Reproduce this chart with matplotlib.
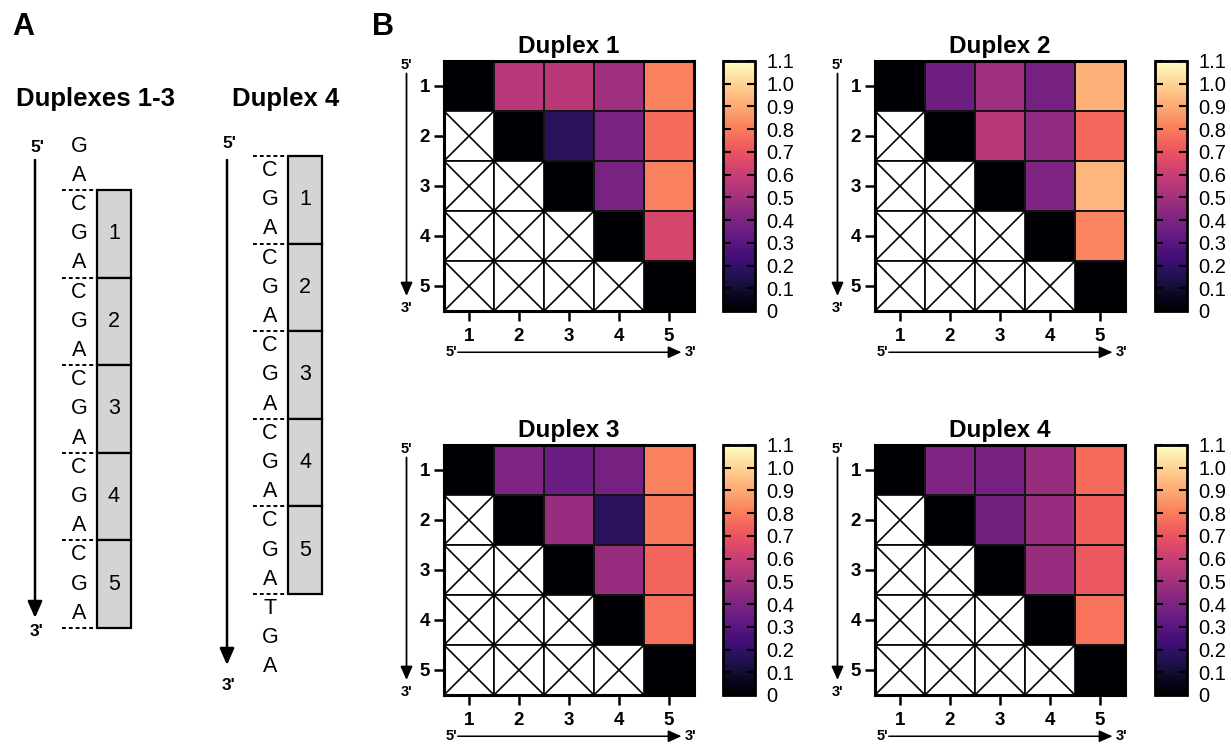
import numpy as np
import matplotlib
matplotlib.use("Agg")
import matplotlib.pyplot as plt
from matplotlib.patches import Rectangle

plt.rcParams['font.family'] = ['Liberation Sans', 'DejaVu Sans']

nan = np.nan

# ---- data ----
positions = [1, 2, 3, 4, 5]
cbar_ticks = [0, 0.1, 0.2, 0.3, 0.4, 0.5, 0.6, 0.7, 0.8, 0.9, 1.0, 1.1]
cbar_labels = ['0', '0.1', '0.2', '0.3', '0.4', '0.5', '0.6', '0.7', '0.8', '0.9', '1.0', '1.1']

titles = ['Duplex 1', 'Duplex 2', 'Duplex 3', 'Duplex 4']
duplex1 = [[0, 0.55, 0.56, 0.49, 0.81],
           [nan, 0, 0.18, 0.39, 0.76],
           [nan, nan, 0, 0.39, 0.81],
           [nan, nan, nan, 0, 0.64],
           [nan, nan, nan, nan, 0]]
duplex2 = [[0, 0.36, 0.49, 0.38, 0.92],
           [nan, 0, 0.56, 0.45, 0.75],
           [nan, nan, 0, 0.40, 0.93],
           [nan, nan, nan, 0, 0.82],
           [nan, nan, nan, nan, 0]]
duplex3 = [[0, 0.40, 0.35, 0.38, 0.81],
           [nan, 0, 0.47, 0.18, 0.79],
           [nan, nan, 0, 0.47, 0.74],
           [nan, nan, nan, 0, 0.77],
           [nan, nan, nan, nan, 0]]
duplex4 = [[0, 0.40, 0.38, 0.47, 0.76],
           [nan, 0, 0.37, 0.47, 0.73],
           [nan, nan, 0, 0.47, 0.71],
           [nan, nan, nan, 0, 0.78],
           [nan, nan, nan, nan, 0]]

seq_13 = list('GACGACGACGACGACGA')
seq_4 = list('CGACGACGACGACGATGA')
block_labels = ['1', '2', '3', '4', '5']

W, H = 1231, 746
fig = plt.figure(figsize=(W / 100, H / 100), dpi=100)


def frac(x0, y0, x1, y1):
    return [x0 / W, 1 - y1 / H, (x1 - x0) / W, (y1 - y0) / H]


# ---- panel A (drawn on a pixel-space overlay) ----
ov = fig.add_axes([0, 0, 1, 1])
ov.set_xlim(0, W)
ov.set_ylim(H, 0)
ov.axis('off')

ov.text(12, 27, 'A', fontsize=22, fontweight='bold', va='center', ha='left')
ov.text(372, 27, 'B', fontsize=22, fontweight='bold', va='center', ha='left')
ov.text(96, 99, 'Duplexes 1-3', fontsize=18.5, fontweight='bold', ha='center', va='center')
ov.text(286, 99, 'Duplex 4', fontsize=18.5, fontweight='bold', ha='center', va='center')

block_h = 87.6
step = block_h / 3


def draw_strand(seq, n_lead, top, x_arrow, arrow_top, arrow_tip, y5, y3, x_let, x_box):
    ov.annotate('', xy=(x_arrow, arrow_tip), xytext=(x_arrow, arrow_top),
                arrowprops=dict(arrowstyle='-|>,head_length=0.5,head_width=0.22',
                                lw=1.8, color='black', shrinkA=0, shrinkB=0,
                                mutation_scale=20))
    ov.text(x_arrow + 2, y5, "5'", fontsize=12.5, fontweight='bold', ha='center', va='center')
    ov.text(x_arrow + 2, y3, "3'", fontsize=12.5, fontweight='bold', ha='center', va='center')
    for i, s in enumerate(seq):
        y = top + (i - n_lead + 0.5) * step
        ov.text(x_let, y, s, fontsize=15.5, ha='center', va='center')
    for b, lab in enumerate(block_labels):
        y0 = top + b * block_h
        ov.add_patch(Rectangle((x_box, y0), 34, block_h, facecolor='#d4d4d6',
                               edgecolor='black', lw=1.6))
        ov.text(x_box + 17, y0 + block_h / 2, lab, fontsize=15.5, ha='center', va='center')
    for b in range(len(block_labels) + 1):
        y0 = top + b * block_h
        ov.plot([x_box - 35, x_box], [y0, y0], color='black', lw=1.4,
                linestyle=(0, (2, 1.5)))


draw_strand(seq_13, 2, 190, 35, 160, 618, 147, 631, 79, 97)
draw_strand(seq_4, 0, 156, 227, 160, 665, 143, 686, 270, 288)

# ---- panel B heatmaps ----
ax_boxes = [(444, 61, 694, 311), (875, 61, 1125, 311),
            (444, 445, 694, 695), (875, 445, 1125, 695)]
cb_boxes = [(723, 61, 755, 311), (1155, 61, 1187, 311),
            (723, 445, 755, 695), (1155, 445, 1187, 695)]
all_vals = [duplex1, duplex2, duplex3, duplex4]

for title, vals, abox, cbox in zip(titles, all_vals, ax_boxes, cb_boxes):
    ax = fig.add_axes(frac(*abox))
    cax = fig.add_axes(frac(*cbox))
    v = np.array(vals, dtype=float)
    n = len(positions)
    edges = np.arange(n + 1) + 0.5
    mesh = ax.pcolormesh(edges, edges, np.ma.masked_invalid(v), cmap='magma',
                         vmin=0, vmax=1.1, edgecolors='#151515', linewidth=1.1)
    for i in range(n):
        for j in range(n):
            if np.isnan(v[i, j]):
                x0, y0 = positions[j] - 0.5, positions[i] - 0.5
                ax.add_patch(Rectangle((x0, y0), 1, 1, facecolor='white',
                                       edgecolor='black', lw=1.2))
                ax.plot([x0, x0 + 1], [y0, y0 + 1], color='black', lw=1.2)
                ax.plot([x0, x0 + 1], [y0 + 1, y0], color='black', lw=1.2)
    ax.set_xlim(0.5, 5.5)
    ax.set_ylim(5.5, 0.5)
    ax.set_xticks(positions)
    ax.set_yticks(positions)
    ax.tick_params(length=7, width=1.8, labelsize=13.5, pad=3)
    ax.tick_params(axis='x', pad=5)
    for lbl in ax.get_xticklabels() + ax.get_yticklabels():
        lbl.set_fontweight('bold')
    for sp in ax.spines.values():
        sp.set_linewidth(2.2)
    ax.set_title(title, fontsize=17.5, fontweight='bold', pad=6)

    # strand direction marks
    ax.annotate('', xy=(-0.15, 0.06), xytext=(-0.15, 0.95), xycoords='axes fraction',
                arrowprops=dict(arrowstyle='-|>,head_length=0.45,head_width=0.2',
                                lw=1.3, color='black', shrinkA=0, shrinkB=0,
                                mutation_scale=18), annotation_clip=False)
    ax.text(-0.15, 0.985, "5'", transform=ax.transAxes, fontsize=10.5, fontweight='bold',
            ha='center', va='center')
    ax.text(-0.15, 0.012, "3'", transform=ax.transAxes, fontsize=10.5, fontweight='bold',
            ha='center', va='center')
    ax.annotate('', xy=(0.95, -0.165), xytext=(0.055, -0.165), xycoords='axes fraction',
                arrowprops=dict(arrowstyle='-|>,head_length=0.45,head_width=0.2',
                                lw=1.1, color='black', shrinkA=0, shrinkB=0,
                                mutation_scale=18), annotation_clip=False)
    ax.text(0.03, -0.165, "5'", transform=ax.transAxes, fontsize=10.5, fontweight='bold',
            ha='center', va='center')
    ax.text(0.985, -0.165, "3'", transform=ax.transAxes, fontsize=10.5, fontweight='bold',
            ha='center', va='center')

    cb = fig.colorbar(mesh, cax=cax)
    cb.set_ticks(cbar_ticks, labels=cbar_labels)
    cb.outline.set_linewidth(2)
    cax.tick_params(direction='in', left=True, right=True, length=6, width=1.5,
                    labelsize=14.5, pad=8)
    cax.minorticks_off()

fig.savefig('out.png', dpi=100)
